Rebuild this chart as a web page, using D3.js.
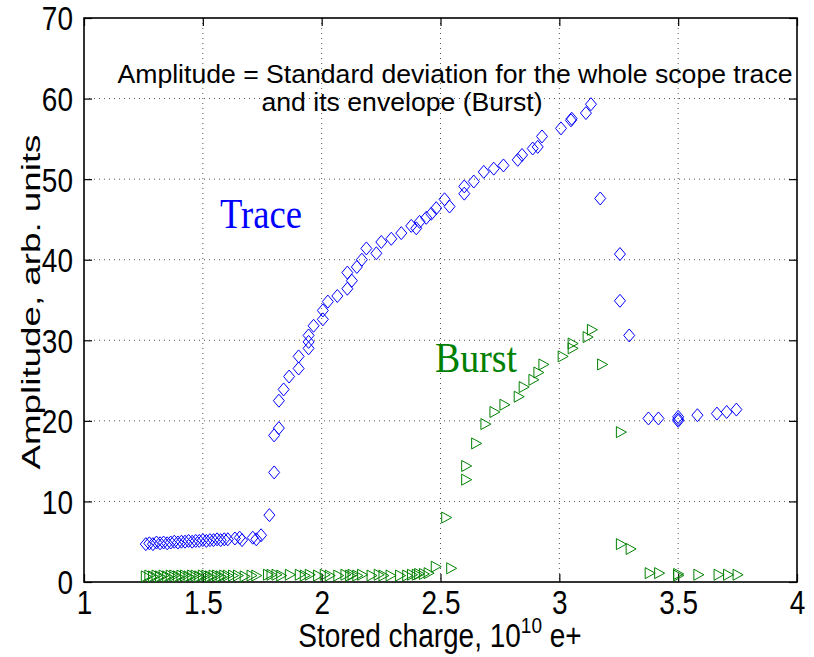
<!DOCTYPE html>
<html>
<head>
<meta charset="utf-8">
<script src="https://cdn.jsdelivr.net/npm/d3@7"></script>
<style>
  body { margin: 0; background: #fff; }
  svg text { font-family: "Liberation Sans", Arial, sans-serif; }
</style>
</head>
<body>
<svg width="814" height="657"></svg>
<script>
// stored charge (1e10 e+) and amplitude for the whole trace
const traceCharge = [1.26, 1.275, 1.29, 1.305, 1.32, 1.335, 1.35, 1.365, 1.38, 1.395, 1.41, 1.425, 1.44, 1.455, 1.47, 1.485, 1.50, 1.515, 1.53, 1.545, 1.56, 1.575, 1.59, 1.605,
  1.635, 1.655, 1.665, 1.71, 1.725, 1.745, 1.78, 1.80, 1.80, 1.82, 1.82, 1.84, 1.863, 1.903, 1.903, 1.945, 1.945, 1.945, 1.966, 2.005, 2.005, 2.026, 2.066, 2.108, 2.127, 2.108,
  2.148, 2.169, 2.188, 2.23, 2.251, 2.293, 2.335, 2.377, 2.398, 2.412, 2.44, 2.461, 2.482, 2.517, 2.538, 2.60, 2.60, 2.64, 2.682, 2.724, 2.765, 2.825, 2.843, 2.888, 2.909, 2.927,
  3.007, 3.049, 3.052, 3.112, 3.133, 3.172, 3.255, 3.255, 3.294, 3.375, 3.417, 3.50, 3.50, 3.50, 3.581, 3.663, 3.704, 3.745];
const traceAmp = [4.7, 4.8, 4.7, 4.9, 4.8, 4.9, 4.8, 4.9, 5.0, 4.9, 5.0, 5.0, 5.1, 5.0, 5.1, 5.1, 5.2, 5.1, 5.2, 5.2, 5.3, 5.2, 5.3, 5.3,
  5.4, 5.5, 5.2, 5.5, 5.3, 5.8, 8.3, 13.6, 18.2, 19.1, 22.5, 23.9, 25.5, 26.5, 28.0, 29.0, 29.8, 30.6, 31.8, 32.6, 33.7, 34.8, 35.5, 36.4, 37.4, 38.4,
  39.1, 40.0, 41.4, 40.8, 42.2, 42.6, 43.3, 44.2, 43.9, 44.7, 45.2, 45.7, 46.4, 47.5, 46.6, 48.2, 49.1, 49.7, 50.9, 51.3, 51.7, 52.4, 53.0, 53.8, 54.0, 55.3,
  56.3, 57.3, 57.5, 58.2, 59.3, 47.6, 40.7, 34.9, 30.6, 20.3, 20.3, 20.5, 20.2, 20.0, 20.7, 20.9, 21.1, 21.4];

// amplitude of the envelope (burst)
const burstCharge = [1.26, 1.275, 1.29, 1.305, 1.32, 1.335, 1.35, 1.365, 1.38, 1.395, 1.41, 1.425, 1.44, 1.455, 1.47, 1.485, 1.50, 1.515, 1.53, 1.545, 1.56, 1.575, 1.59, 1.605,
  1.627, 1.648, 1.676, 1.705, 1.725, 1.774, 1.789, 1.81, 1.83, 1.866, 1.908, 1.929, 1.95, 1.985, 2.013, 2.034, 2.07, 2.10, 2.12, 2.13, 2.15, 2.17, 2.21, 2.24, 2.26,
  2.29, 2.33, 2.36, 2.38, 2.40, 2.41, 2.43, 2.45, 2.48, 2.545, 2.524, 2.608, 2.608, 2.65, 2.689, 2.727, 2.769, 2.829, 2.85, 2.891, 2.912, 2.933,
  3.014, 3.056, 3.056, 3.119, 3.137, 3.18, 3.259, 3.259, 3.30, 3.38, 3.42, 3.50, 3.50, 3.585, 3.67, 3.71, 3.75];
const burstAmp = [0.7, 0.8, 0.7, 0.8, 0.7, 0.8, 0.7, 0.8, 0.8, 0.7, 0.8, 0.8, 0.7, 0.8, 0.8, 0.7, 0.8, 0.8, 0.7, 0.8, 0.8, 0.7, 0.8, 0.8,
  0.8, 0.8, 0.7, 0.8, 0.8, 0.9, 0.9, 0.9, 0.8, 0.9, 0.9, 0.8, 0.9, 0.8, 0.9, 0.8, 0.8, 0.9, 0.8, 0.9, 0.8, 0.9, 0.8, 0.9, 0.8,
  0.8, 0.8, 0.8, 0.9, 0.9, 1.0, 1.0, 1.1, 1.9, 1.7, 8.0, 14.4, 12.7, 17.2, 19.6, 21.1, 22.0, 23.0, 24.2, 25.1, 26.0, 27.0,
  28.0, 29.0, 29.6, 30.4, 31.3, 27.0, 18.6, 4.7, 4.1, 1.1, 1.1, 1.0, 0.8, 0.9, 0.9, 0.9, 0.9];

const xTicks = [1, 1.5, 2, 2.5, 3, 3.5, 4];
const yTicks = [0, 10, 20, 30, 40, 50, 60, 70];

const svg = d3.select("svg");
const plotLeft = 84, plotRight = 797, plotTop = 18, plotBottom = 582;
const stretchY = 1.18; // the figure is taller than its fonts suggest

const x = d3.scaleLinear().domain([1, 4]).range([plotLeft, plotRight]);
const y = d3.scaleLinear().domain([0, 70]).range([plotBottom, plotTop]);

// dotted grid
svg.append("g").selectAll("line").data(xTicks.slice(1, -1)).join("line")
  .attr("x1", d => x(d)).attr("x2", d => x(d)).attr("y1", plotTop).attr("y2", plotBottom)
  .attr("stroke", "#555").attr("stroke-dasharray", "1,4");
svg.append("g").selectAll("line").data(yTicks.slice(1, -1)).join("line")
  .attr("y1", d => y(d)).attr("y2", d => y(d)).attr("x1", plotLeft).attr("x2", plotRight)
  .attr("stroke", "#555").attr("stroke-dasharray", "1,4");

// axes with inward ticks
const fmt = d => String(d);
const gx = svg.append("g").attr("transform", `translate(0,${plotBottom})`)
  .call(d3.axisBottom(x).tickValues(xTicks).tickFormat(fmt).tickSizeInner(-8).tickSizeOuter(0).tickPadding(7));
const gxTop = svg.append("g").attr("transform", `translate(0,${plotTop})`)
  .call(d3.axisTop(x).tickValues(xTicks).tickFormat("").tickSizeInner(-8).tickSizeOuter(0));
const gy = svg.append("g").attr("transform", `translate(${plotLeft},0)`)
  .call(d3.axisLeft(y).tickValues(yTicks).tickFormat(fmt).tickSizeInner(-8).tickSizeOuter(0).tickPadding(11));
const gyRight = svg.append("g").attr("transform", `translate(${plotRight},0)`)
  .call(d3.axisRight(y).tickValues(yTicks).tickFormat("").tickSizeInner(-8).tickSizeOuter(0));

[gx, gxTop, gy, gyRight].forEach(g => {
  g.select(".domain").remove();
  g.selectAll(".tick line").attr("stroke", "#000").attr("stroke-width", 1.2);
  g.selectAll(".tick text").attr("font-size", 28).attr("fill", "#000")
    .attr("transform", `scale(1,${stretchY})`);
});
gx.selectAll(".tick text").attr("dy", "0.72em");
gy.selectAll(".tick text").attr("dy", "0.36em");

svg.append("rect")
  .attr("x", plotLeft).attr("y", plotTop).attr("width", plotRight - plotLeft).attr("height", plotBottom - plotTop)
  .attr("fill", "none").attr("stroke", "#000").attr("stroke-width", 1.6);

// markers
const diamond = "M0,-6.5L5.5,0L0,6.5L-5.5,0Z";
const triRight = "M-4.5,-5.5L5.5,0L-4.5,5.5Z";

svg.append("g").selectAll("path").data(d3.range(traceCharge.length)).join("path")
  .attr("d", diamond)
  .attr("transform", i => `translate(${x(traceCharge[i])},${y(traceAmp[i])})`)
  .attr("fill", "none").attr("stroke", "#0000ff").attr("stroke-width", 1);

svg.append("g").selectAll("path").data(d3.range(burstCharge.length)).join("path")
  .attr("d", triRight)
  .attr("transform", i => `translate(${x(burstCharge[i])},${y(burstAmp[i])})`)
  .attr("fill", "none").attr("stroke", "#008000").attr("stroke-width", 1);

// annotations
svg.append("text").attr("transform", `translate(455,83) scale(1,${stretchY})`).attr("text-anchor", "middle")
  .attr("font-size", 22).attr("textLength", 675).attr("lengthAdjust", "spacingAndGlyphs")
  .text("Amplitude = Standard deviation for the whole scope trace");
svg.append("text").attr("transform", `translate(402,111) scale(1,${stretchY})`).attr("text-anchor", "middle")
  .attr("font-size", 22).attr("textLength", 281).attr("lengthAdjust", "spacingAndGlyphs")
  .text("and its envelope (Burst)");

svg.append("text").attr("transform", `translate(220,228) scale(1,${stretchY})`)
  .style("font-family", "'Liberation Serif', 'Times New Roman', serif").attr("font-size", 36)
  .attr("textLength", 82).attr("lengthAdjust", "spacingAndGlyphs")
  .attr("fill", "#0000ff").text("Trace");
svg.append("text").attr("transform", `translate(435,372) scale(1,${stretchY})`)
  .style("font-family", "'Liberation Serif', 'Times New Roman', serif").attr("font-size", 36)
  .attr("textLength", 82).attr("lengthAdjust", "spacingAndGlyphs")
  .attr("fill", "#008000").text("Burst");

// axis labels
const xl = svg.append("text").attr("transform", `translate(440,647) scale(1,${stretchY})`)
  .attr("text-anchor", "middle").attr("font-size", 28);
xl.append("tspan").text("Stored charge, 10");
xl.append("tspan").attr("font-size", 19).attr("dy", -12).text("10");
xl.append("tspan").attr("dy", 12).text(" e+");

svg.append("text").attr("transform", "translate(40,302) rotate(-90)")
  .attr("text-anchor", "middle").attr("font-size", 25)
  .attr("textLength", 335).attr("lengthAdjust", "spacingAndGlyphs")
  .text("Amplitude, arb. units");
</script>
</body>
</html>
